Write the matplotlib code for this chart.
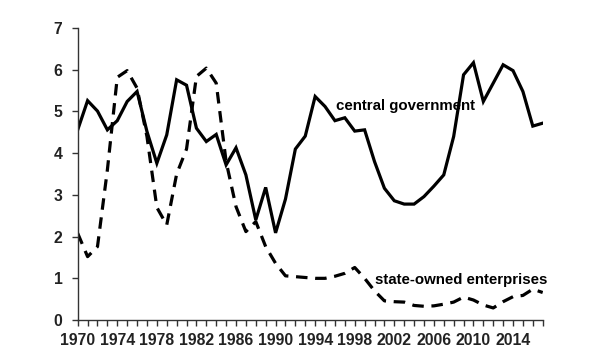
import matplotlib
matplotlib.use("Agg")
import matplotlib.pyplot as plt
from matplotlib.ticker import MultipleLocator

plt.rcParams['font.family'] = ['Liberation Sans', 'DejaVu Sans']

# data
years = list(range(1970, 2018))
central_gov = [4.56, 5.26, 5.01, 4.56, 4.78, 5.24, 5.48, 4.52, 3.76, 4.44,
               5.76, 5.63, 4.60, 4.28, 4.45, 3.72, 4.13, 3.48, 2.40, 3.18,
               2.09, 2.90, 4.10, 4.41, 5.36, 5.12, 4.78, 4.85, 4.53, 4.56,
               3.80, 3.16, 2.86, 2.78, 2.78, 2.96, 3.21, 3.48, 4.40, 5.88,
               6.17, 5.24, 5.68, 6.12, 5.98, 5.48, 4.65, 4.72]
soe = [2.08, 1.52, 1.76, 3.60, 5.82, 5.98, 5.56, 4.40, 2.70, 2.28,
       3.50, 4.10, 5.84, 6.04, 5.68, 3.80, 2.72, 2.12, 2.36, 1.76,
       1.36, 1.06, 1.04, 1.02, 1.00, 1.00, 1.05, 1.12, 1.26, 1.00,
       0.70, 0.46, 0.44, 0.43, 0.35, 0.33, 0.34, 0.38, 0.43, 0.55,
       0.48, 0.36, 0.29, 0.44, 0.56, 0.59, 0.74, 0.66]
xtick_years = list(range(1970, 2018, 4))

fig = plt.figure(figsize=(6, 3.6), dpi=100)
ax = fig.add_axes([0.1295, 0.111, 0.775, 0.811])

ax.plot(years, central_gov, color='black', lw=2.3, solid_joinstyle='miter')
ax.plot(years, soe, color='black', lw=2.3, linestyle=(0, (3.6, 2.4)))

# series labels placed on the chart
ax.text(1996.1, 5.04, 'central government', fontsize=10.8, fontweight='bold',
        va='baseline', ha='left')
ax.text(2000.0, 0.86, 'state-owned enterprises', fontsize=10.8, fontweight='bold',
        va='baseline', ha='left')

ax.set_xlim(1970, 2017)
ax.set_ylim(0, 7)
ax.set_xticks(xtick_years)
ax.xaxis.set_minor_locator(MultipleLocator(1))
ax.yaxis.set_major_locator(MultipleLocator(1))

for side in ['top', 'right']:
    ax.spines[side].set_visible(False)
for side in ['left', 'bottom']:
    ax.spines[side].set_color('#333333')
    ax.spines[side].set_linewidth(1.0)

ax.tick_params(axis='both', which='both', direction='out', color='#333333',
               width=1.0, labelsize=11.3, pad=5)
ax.tick_params(axis='x', which='major', length=4)
ax.tick_params(axis='x', which='minor', length=4)
ax.tick_params(axis='y', length=4, pad=7)
for lbl in ax.get_xticklabels() + ax.get_yticklabels():
    lbl.set_fontweight('bold')
    lbl.set_color('#222222')

fig.savefig('out.png', dpi=100)
